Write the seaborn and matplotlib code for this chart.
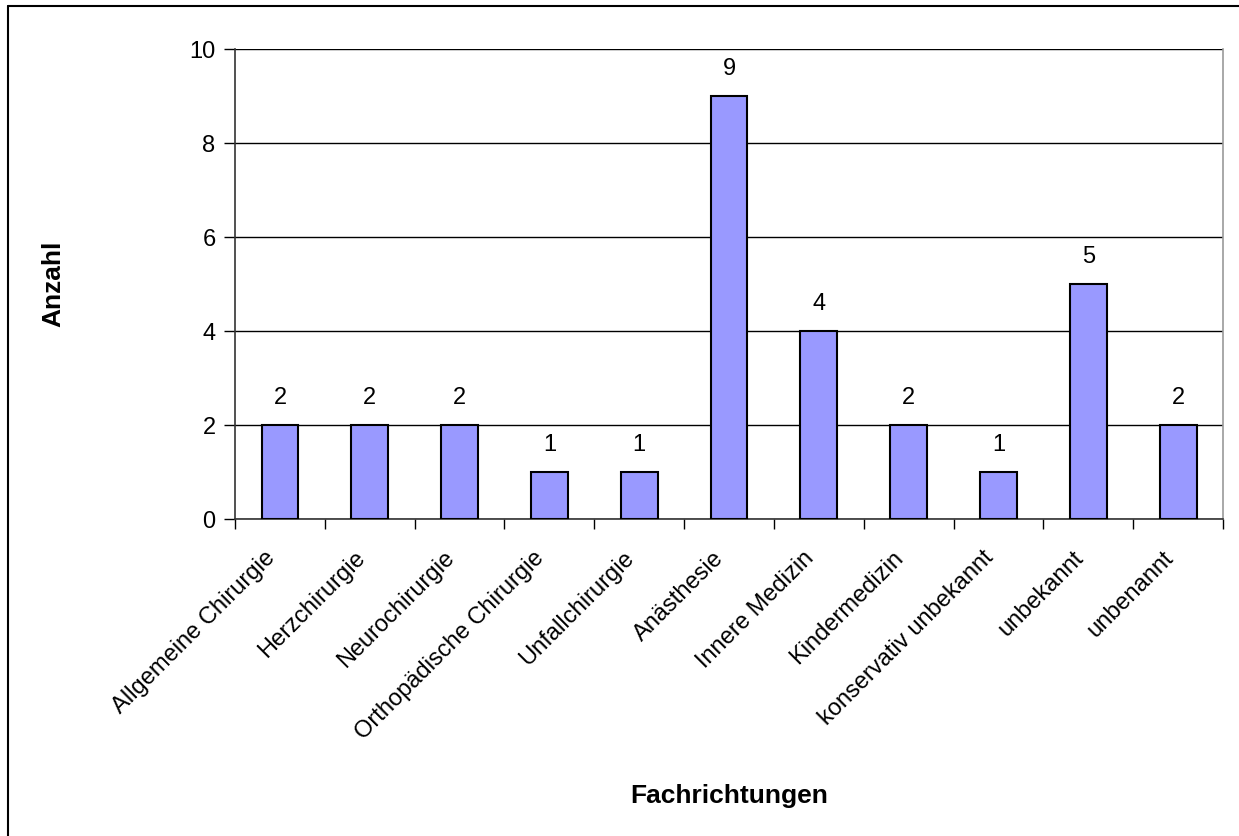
import matplotlib
matplotlib.use("Agg")
import matplotlib.pyplot as plt
import matplotlib.transforms as mtransforms
import seaborn as sns
import pandas as pd
from matplotlib.lines import Line2D

# Daten
categories = ["Allgemeine Chirurgie", "Herzchirurgie", "Neurochirurgie",
              "Orthopädische Chirurgie", "Unfallchirurgie", "Anästhesie",
              "Innere Medizin", "Kindermedizin", "konservativ unbekannt",
              "unbekannt", "unbenannt"]
counts = [2, 2, 2, 1, 1, 9, 4, 2, 1, 5, 2]
yticks = [0, 2, 4, 6, 8, 10]

sns.set_style("white")
plt.rcParams["font.family"] = ["Liberation Sans", "DejaVu Sans"]
plt.rcParams["text.color"] = "black"
plt.rcParams["axes.labelcolor"] = "black"
plt.rcParams["xtick.color"] = "black"
plt.rcParams["ytick.color"] = "black"

df = pd.DataFrame({"Fachrichtungen": categories, "Anzahl": counts})

fig = plt.figure(figsize=(12.39, 8.36), dpi=100)
ax = fig.add_axes([0.1897, 0.379, 0.7974, 0.562])

sns.barplot(data=df, x="Fachrichtungen", y="Anzahl", ax=ax,
            color="#9999FF", edgecolor="black", linewidth=1.5,
            width=0.41, saturation=1, zorder=3)

ax.set_ylim(0, 10)
ax.set_xlim(-0.5, len(categories) - 0.5)
ax.set_yticks(yticks)
ax.set_yticklabels([str(t) for t in yticks], fontsize=17)
ax.yaxis.grid(True, color="black", linewidth=1, zorder=0)
ax.tick_params(axis="y", direction="out", length=8, width=1, left=True, pad=6)

# Kategorie-Beschriftungen
ax.set_xticks(range(len(categories)))
ax.set_xticklabels(categories, rotation=45, ha="right",
                   rotation_mode="anchor", fontsize=17)
ax.tick_params(axis="x", length=0, pad=20)
shift = mtransforms.ScaledTranslation(-16 / 100, 0, fig.dpi_scale_trans)
for lbl in ax.get_xticklabels():
    lbl.set_transform(lbl.get_transform() + shift)
# Trennstriche zwischen Kategorien
ax.set_xticks([i - 0.5 for i in range(len(categories) + 1)], minor=True)
ax.tick_params(axis="x", which="minor", direction="out", length=7, width=1, bottom=True)

for i, v in enumerate(counts):
    ax.annotate(str(v), (i, v), xytext=(0, 12), textcoords="offset points",
                ha="center", va="bottom", fontsize=17)

for side in ["left", "bottom"]:
    ax.spines[side].set_color("#333333")
    ax.spines[side].set_linewidth(1.2)
ax.spines["top"].set_visible(False)
ax.spines["right"].set_color("#999999")
ax.spines["right"].set_linewidth(1.2)
ax.spines["left"].set_zorder(5)

ax.set_xlabel("Fachrichtungen", fontsize=19, fontweight="bold")
ax.set_ylabel("Anzahl", fontsize=19, fontweight="bold")
ax.xaxis.set_label_coords(0.5, -0.563)
ax.yaxis.set_label_coords(-0.172, 0.5)

# Rahmen links und oben
fig.add_artist(Line2D([8 / 1239, 8 / 1239], [0, 1 - 6 / 836],
                      transform=fig.transFigure, color="black", linewidth=1.5))
fig.add_artist(Line2D([8 / 1239, 1], [1 - 6 / 836, 1 - 6 / 836],
                      transform=fig.transFigure, color="black", linewidth=1.5))

fig.savefig("out.png", dpi=100)
